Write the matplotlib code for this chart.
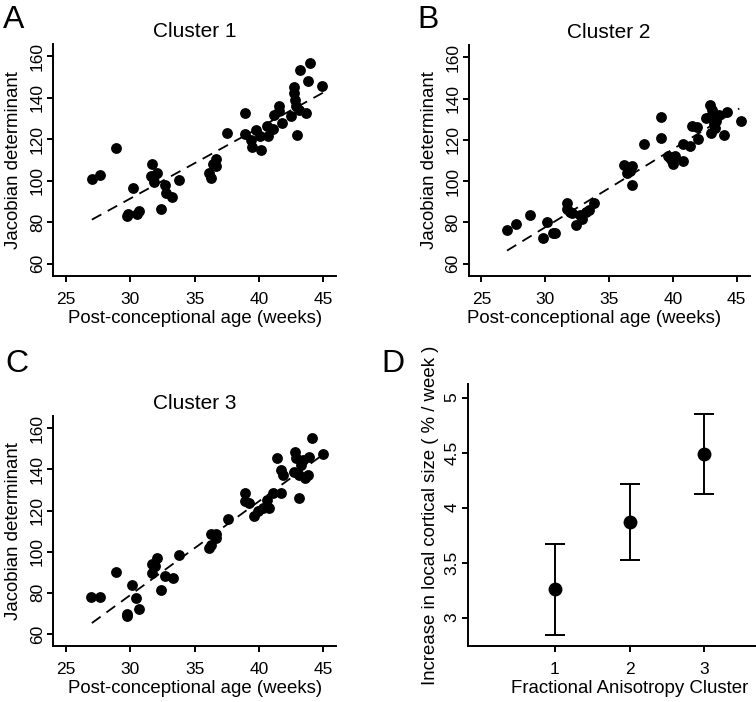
import numpy as np
import matplotlib
matplotlib.use("Agg")
import matplotlib.pyplot as plt

plt.rcParams['font.family'] = ['Liberation Sans', 'DejaVu Sans']

# Panel A: Cluster 1 (post-conceptional age vs Jacobian determinant)
age_a = [27.0, 27.6, 28.9, 29.7, 29.8, 30.2, 30.5, 30.7, 31.7, 31.6,
         31.8, 32.1, 31.8, 32.4, 32.7, 32.8, 33.2, 33.8, 36.1, 36.3,
         36.4, 36.7, 36.7, 37.5, 38.9, 38.9, 39.4, 39.5, 39.8, 40.2,
         40.1, 40.6, 40.7, 41.1, 41.2, 41.6, 41.8, 41.6, 42.5, 42.7,
         42.7, 42.8, 42.9, 43.0, 43.1, 43.2, 43.7, 43.8, 44.0, 44.9]
jac_a = [101, 102.8, 115.9, 83, 84, 96.3, 84, 85.5, 108.1, 102.5,
         102.3, 103.6, 99.6, 86.2, 98, 94.2, 92, 100.4, 103.6, 101.5,
         108.1, 110.4, 106.9, 123, 132.7, 122.5, 119.8, 116.5, 124.6, 114.9,
         121.4, 126.2, 121.4, 124.9, 131.9, 136.3, 127.9, 133.5, 131.1, 145.3,
         142.4, 139.2, 135.9, 122.2, 134.3, 153.4, 132.7, 148.0, 156.6, 145.6]

# Panel B: Cluster 2
age_b = [27.0, 27.7, 28.8, 29.8, 30.15, 30.6, 30.8, 31.7, 31.7, 31.9,
         32.1, 32.4, 32.7, 32.9, 33.2, 33.4, 33.8, 36.2, 36.6, 36.8,
         36.8, 37.7, 39.1, 39.1, 39.6, 39.9, 40.2, 40.0, 39.8, 40.8,
         40.8, 41.3, 41.5, 41.9, 42.0, 42.9, 42.9, 43.1, 43.0, 43.3,
         43.4, 43.6, 44.0, 44.2, 45.3, 36.4, 42.6, 43.2]
jac_b = [76.1, 79, 83.6, 72.4, 80, 74.9, 74.9, 89.4, 86.5, 84.9,
         84.4, 78.5, 83.6, 81.7, 85.2, 86.2, 89.4, 107.7, 105, 107.3,
         98, 117.8, 131, 120.7, 112.2, 109.8, 112.2, 108.2, 111.4, 109.8,
         117.8, 117, 126.6, 126.3, 120.5, 137, 131, 134.6, 123.4, 125.8,
         129.3, 132.2, 122.6, 133.4, 129.3, 103.8, 130.5, 127.5]

# Panel C: Cluster 3
age_c = [26.95, 27.6, 28.85, 29.7, 29.75, 30.15, 30.4, 30.7, 31.7, 31.7,
         32.1, 31.9, 32.4, 32.7, 33.3, 33.8, 36.1, 36.3, 36.3, 36.7,
         36.7, 37.6, 38.9, 38.9, 39.25, 39.6, 39.9, 40.3, 40.6, 40.8,
         41.1, 41.4, 41.7, 41.7, 41.85, 42.8, 42.9, 42.75, 43.1, 43.15,
         43.3, 43.4, 43.6, 43.8, 43.9, 44.1, 45.0]
jac_c = [78.2, 78.2, 90.3, 68.9, 69.8, 83.7, 77.7, 72.1, 94.2, 89.8,
         97.1, 93.1, 81.5, 88.2, 87.4, 98.4, 101.9, 103.2, 108.7, 108.4,
         106.8, 116, 128.5, 124.5, 123.7, 117.3, 119.7, 121.3, 125.3, 121.3,
         128.5, 145.5, 128.5, 139.8, 137.1, 148.4, 145.5, 139, 126.1, 137.4,
         142.3, 144.7, 135.8, 137.1, 146.3, 155.5, 147.6]

# dashed regression lines (end points)
fit_x = [27.0, 45.2]
fit_a = [81.2, 143.2]
fit_b = [66.3, 135.2]
fit_c = [65.3, 148.2]

# Panel D: growth rate per cluster with error bars
clusters = [1, 2, 3]
rate = [3.264, 3.870, 4.491]
rate_lo = [2.842, 3.524, 4.127]
rate_hi = [3.667, 4.212, 4.848]

W, H = 756, 702
fig = plt.figure(figsize=(W / 100, H / 100), dpi=100)


def px_axes(l, t, r, b):
    return fig.add_axes([l / W, 1 - b / H, (r - l) / W, (b - t) / H])


def style(ax):
    for s in ['top', 'right']:
        ax.spines[s].set_visible(False)
    for s in ['left', 'bottom']:
        ax.spines[s].set_linewidth(1.4)
    ax.tick_params(length=4.5, width=1.4, labelsize=12.5)
    ax.tick_params(axis='x', pad=7)
    ax.tick_params(axis='y', labelrotation=90, pad=1.5)
    for lab in ax.get_yticklabels():
        lab.set_va('center')


def scatter_panel(ax, x, y, fy, title):
    ax.plot(x, y, 'o', color='black', ms=7.8, mec='none')
    ax.plot(fit_x, fy, color='black', lw=1.3, ls=(0, (6, 4)))
    ax.set_xlim(24, 46)
    ax.set_ylim(54, 166)
    ax.set_xticks([25, 30, 35, 40, 45])
    ax.set_yticks([60, 80, 100, 120, 140, 160])
    style(ax)
    ax.set_title(title, fontsize=15, pad=5)
    ax.set_xlabel('Post-conceptional age (weeks)', fontsize=13.4, labelpad=2)
    ax.set_ylabel('Jacobian determinant', fontsize=13.4, labelpad=5.5)


ax_a = px_axes(53.3, 44, 336, 276)
scatter_panel(ax_a, age_a, jac_a, fit_a, 'Cluster 1')

ax_b = px_axes(468.7, 45, 749.5, 276)
scatter_panel(ax_b, age_b, jac_b, fit_b, 'Cluster 2')
ax_b.xaxis.label.set_x(0.445)

ax_c = px_axes(53.3, 416, 336, 646.3)
scatter_panel(ax_c, age_c, jac_c, fit_c, 'Cluster 3')

ax_d = px_axes(468, 384.3, 791, 646.3)
err = [np.array(rate) - np.array(rate_lo), np.array(rate_hi) - np.array(rate)]
ax_d.errorbar(clusters, rate, yerr=err, fmt='o', color='black', ms=10,
              mec='none', elinewidth=1.4, capsize=7, capthick=1.4)
ax_d.set_xlim(-0.16, 4.16)
ax_d.set_ylim(2.74, 5.12)
ax_d.set_xticks(clusters)
ax_d.set_yticks([3, 3.5, 4, 4.5, 5])
ax_d.set_yticklabels(['3', '3.5', '4', '4.5', '5'])
style(ax_d)
ax_d.set_xlabel('Fractional Anisotropy Cluster', fontsize=13.4, labelpad=2)
ax_d.set_ylabel('Increase in local cortical size ( % / week )', fontsize=13.4,
                labelpad=4)

# panel letters
for lx, ly, letter in [(3, 5, 'A'), (417, 5, 'B'), (5, 349, 'C'), (381, 349, 'D')]:
    fig.text(lx / W, 1 - ly / H, letter, fontsize=23, ha='left', va='top')

fig.savefig('out.png', dpi=100)
